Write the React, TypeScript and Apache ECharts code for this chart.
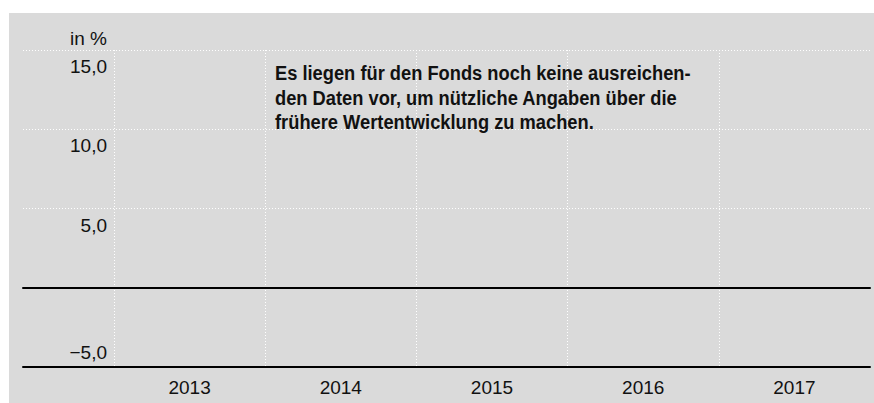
import React, { useEffect, useRef } from "react";
import * as echarts from "echarts";

const categories = ["2013", "2014", "2015", "2016", "2017"];
const fundReturns: (number | null)[] = [null, null, null, null, null];
const yMin = -5;
const yMax = 15;
const yStep = 5;
const unitLabel = "in %";
const noteLines = [
  "Es liegen für den Fonds noch keine ausreichen-",
  "den Daten vor, um nützliche Angaben über die",
  "frühere Wertentwicklung zu machen.",
];

const fmt = (v: number) =>
  (v < 0 ? "\u2212" : "") + Math.abs(v).toFixed(1).replace(".", ",");

const tickFont = "'Liberation Sans', Arial, sans-serif";
const noteFont = "'Liberation Sans', Arial, sans-serif";

export default function App() {
  const ref = useRef<HTMLDivElement>(null);
  useEffect(() => {
    if (!ref.current) return;
    const chart = echarts.init(ref.current, undefined, { renderer: "svg" });
    const gridTop = 50;
    const gridBottom = 36;
    const option: any = {
      animation: false,
      graphic: [
        {
          type: "rect",
          z: -100,
          shape: { x: 9, y: 13, width: 865, height: 390 },
          style: { fill: "#dadada" },
          silent: true,
        },
        {
          type: "text",
          x: 275,
          y: 61,
          scaleX: 0.915,
          z: 10,
          style: {
            text: noteLines.join("\n"),
            fill: "#111",
            font: `bold 20px ${noteFont}`,
            lineHeight: 24.5,
            align: "left",
            verticalAlign: "top",
          },
        },
      ],
      grid: [
        { left: 23, right: 4, top: gridTop, bottom: gridBottom },
        { left: 114, right: 4, top: gridTop, bottom: gridBottom },
      ],
      xAxis: [
        {
          gridIndex: 0,
          type: "value",
          min: 0,
          max: 1,
          axisLine: { show: true, onZero: true, lineStyle: { color: "#000", width: 2 } },
          axisTick: { show: false },
          axisLabel: { show: false },
          splitLine: { show: false },
          z: 5,
        },
        {
          gridIndex: 0,
          type: "value",
          min: 0,
          max: 1,
          position: "bottom",
          axisLine: { show: true, onZero: false, lineStyle: { color: "#000", width: 2 } },
          axisTick: { show: false },
          axisLabel: { show: false },
          splitLine: { show: false },
          z: 5,
        },
        {
          gridIndex: 1,
          type: "category",
          data: categories,
          position: "bottom",
          axisLine: { show: false, onZero: false },
          axisTick: { show: false },
          axisLabel: {
            color: "#111",
            fontSize: 19,
            fontFamily: tickFont,
            margin: 11,
          },
          splitLine: {
            show: true,
            showMaxLine: false,
            lineStyle: { color: "#ffffff", width: 1, type: [1, 2] },
          },
        },
      ],
      yAxis: [
        {
          gridIndex: 0,
          type: "value",
          min: yMin,
          max: yMax,
          interval: yStep,
          axisLine: { show: false },
          axisTick: { show: false },
          axisLabel: { show: false },
          splitLine: { show: true, lineStyle: { color: "#ffffff", width: 1, type: [1, 2] } },
        },
        {
          gridIndex: 1,
          type: "value",
          position: "left",
          min: yMin,
          max: yMax,
          interval: yStep,
          name: unitLabel,
          nameLocation: "end",
          nameGap: 12,
          nameTextStyle: {
            color: "#111",
            fontSize: 19,
            fontFamily: tickFont,
            align: "right",
            verticalAlign: "middle",
            padding: [0, 7, 0, 0],
          },
          axisLine: { show: false },
          axisTick: { show: false },
          splitLine: { show: false },
          axisLabel: {
            color: "#111",
            fontSize: 19,
            fontFamily: tickFont,
            margin: 7,
            verticalAlign: "top",
            padding: [7, 0, 0, 0],
            formatter: (v: number) => (v > 0 ? fmt(v) : ""),
          },
        },
        {
          gridIndex: 1,
          type: "value",
          position: "left",
          offset: 0,
          min: yMin,
          max: yMax,
          interval: yStep,
          axisLine: { show: false },
          axisTick: { show: false },
          splitLine: { show: false },
          axisLabel: {
            color: "#111",
            fontSize: 19,
            fontFamily: tickFont,
            margin: 7,
            verticalAlign: "bottom",
            padding: [0, 0, 5, 0],
            formatter: (v: number) => (v < 0 ? fmt(v) : ""),
          },
        },
      ],
      series: [
        {
          type: "bar",
          xAxisIndex: 2,
          yAxisIndex: 1,
          data: fundReturns,
          itemStyle: { color: "#1f4e79" },
        },
      ],
    };
    chart.setOption(option);
    return () => chart.dispose();
  }, []);
  return (
    <div
      ref={ref}
      style={{ position: "absolute", left: 0, top: 0, width: 874, height: 403 }}
    />
  );
}
